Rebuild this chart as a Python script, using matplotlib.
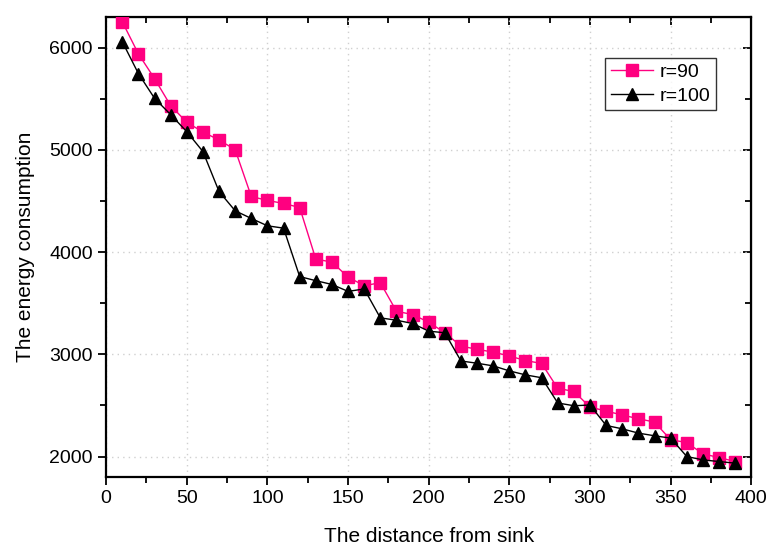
import matplotlib
matplotlib.use("Agg")
import matplotlib.pyplot as plt
from matplotlib.ticker import MultipleLocator

# distance from sink
distance = [10, 20, 30, 40, 50, 60, 70, 80, 90, 100, 110, 120, 130, 140, 150, 160, 170, 180, 190, 200,
            210, 220, 230, 240, 250, 260, 270, 280, 290, 300, 310, 320, 330, 340, 350, 360, 370, 380, 390]

# energy consumption, r=90
energy_r90 = [6255, 5941, 5699, 5434, 5271, 5176, 5098, 5003, 4545, 4506, 4477, 4437, 3932, 3903, 3756,
              3672, 3701, 3422, 3389, 3315, 3211, 3081, 3049, 3022, 2984, 2939, 2911, 2667, 2637, 2484,
              2445, 2406, 2370, 2337, 2164, 2137, 2026, 1990, 1951]

# energy consumption, r=100
energy_r100 = [6060, 5748, 5506, 5346, 5179, 4985, 4594, 4405, 4330, 4258, 4235, 3761, 3721, 3684, 3616,
               3640, 3357, 3334, 3302, 3227, 3211, 2935, 2913, 2887, 2838, 2799, 2771, 2524, 2497, 2504,
               2304, 2271, 2229, 2203, 2180, 2000, 1967, 1951, 1935]

plt.rcParams['font.family'] = ['Liberation Sans', 'DejaVu Sans']

fig = plt.figure(figsize=(7.69, 5.53), dpi=100)
ax = fig.add_axes([0.138, 0.1375, 0.839, 0.8315])

ax.plot(distance, energy_r90, color='#ff0080', marker='s', markersize=8, linewidth=1,
        label='r=90', zorder=3)
ax.plot(distance, energy_r100, color='black', marker='^', markersize=9, linewidth=1,
        label='r=100', zorder=3)

ax.set_xlim(0, 400)
ax.set_ylim(1800, 6300)
ax.xaxis.set_major_locator(MultipleLocator(50))
ax.xaxis.set_minor_locator(MultipleLocator(25))
ax.yaxis.set_major_locator(MultipleLocator(1000))
ax.yaxis.set_minor_locator(MultipleLocator(500))

ax.grid(True, which='major', color='#d0d0d0', linestyle=(0, (1, 3)), linewidth=1)
ax.set_axisbelow(True)

ax.tick_params(which='both', direction='out', labelsize=14, width=1.3)
ax.tick_params(which='major', length=6)
ax.tick_params(which='minor', length=4)
for s in ax.spines.values():
    s.set_linewidth(1.6)

# mirrored inward ticks on top and right
ax2 = ax.secondary_xaxis('top')
ax2.xaxis.set_major_locator(MultipleLocator(50))
ax2.xaxis.set_minor_locator(MultipleLocator(25))
ax2.tick_params(which='both', direction='in', labeltop=False, width=1.3)
ax2.tick_params(which='major', length=6)
ax2.tick_params(which='minor', length=4)
ax3 = ax.secondary_yaxis('right')
ax3.yaxis.set_major_locator(MultipleLocator(1000))
ax3.yaxis.set_minor_locator(MultipleLocator(500))
ax3.tick_params(which='both', direction='in', labelright=False, width=1.3)
ax3.tick_params(which='major', length=6)
ax3.tick_params(which='minor', length=4)

ax.set_xlabel("The distance from sink", fontsize=15, labelpad=14)
ax.set_ylabel("The energy consumption", fontsize=15, labelpad=10)

leg = ax.legend(loc='upper right', bbox_to_anchor=(0.96, 0.933), fontsize=14, frameon=True,
                fancybox=False, edgecolor='black', handlelength=2.2, borderpad=0.3,
                labelspacing=0.3, handletextpad=0.3)
leg.get_frame().set_linewidth(1.0)

fig.savefig("out.png", dpi=100)
